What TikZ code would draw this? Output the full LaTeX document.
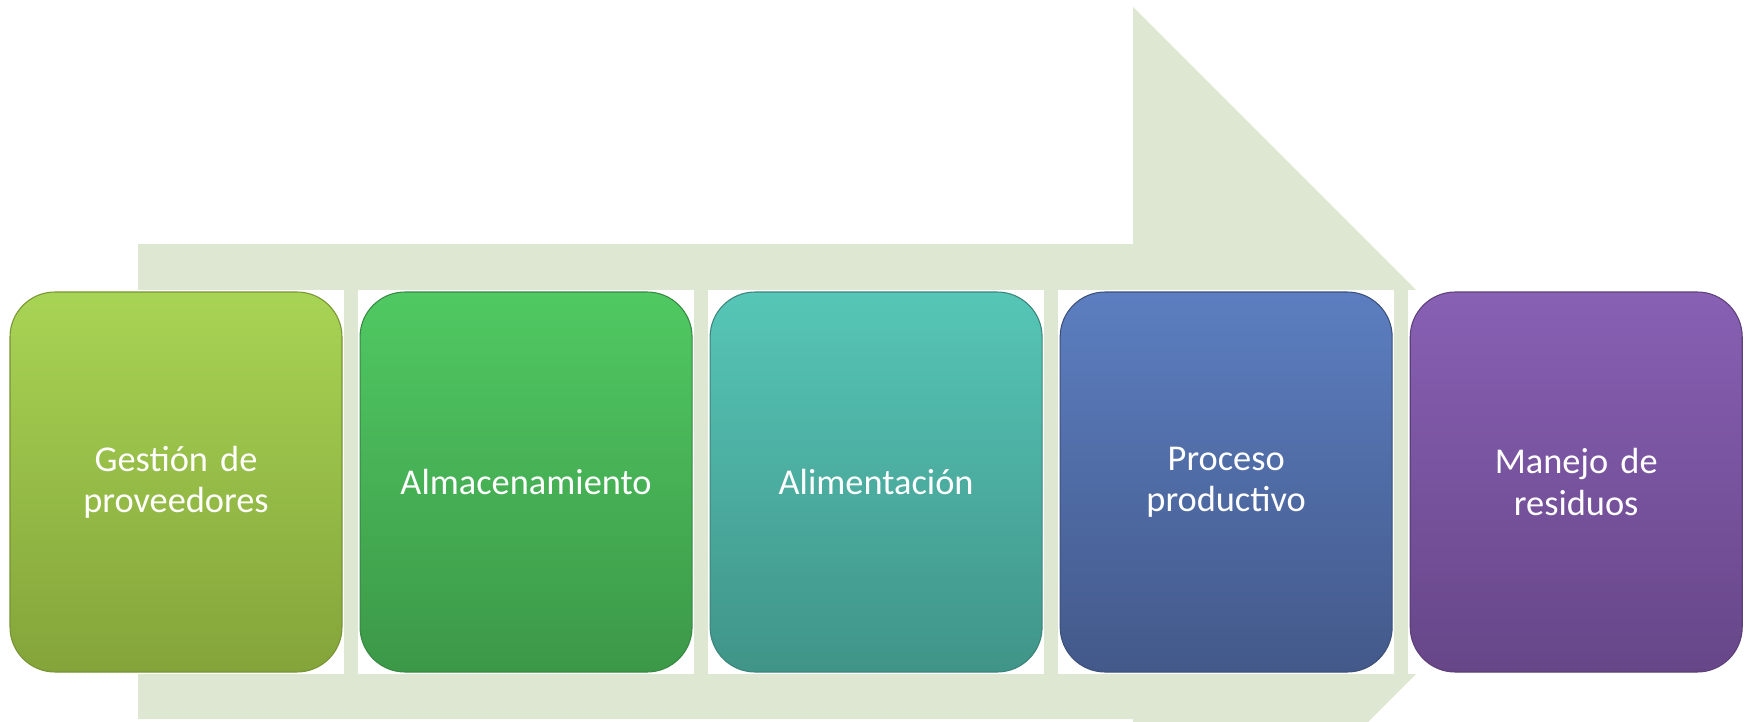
\documentclass[tikz,border=0pt]{standalone}
\usepackage{fontspec}
\setmainfont{Carlito}
\usetikzlibrary{calc,positioning,backgrounds}

\definecolor{flecha}{RGB}{222,231,210}
\definecolor{limaA}{RGB}{168,212,84}
\definecolor{limaB}{RGB}{132,164,58}
\definecolor{verdeA}{RGB}{80,201,98}
\definecolor{verdeB}{RGB}{60,152,72}
\definecolor{turqA}{RGB}{86,198,183}
\definecolor{turqB}{RGB}{64,148,136}
\definecolor{azulA}{RGB}{92,126,192}
\definecolor{azulB}{RGB}{67,89,138}
\definecolor{moraA}{RGB}{136,96,180}
\definecolor{moraB}{RGB}{103,70,136}

\tikzset{
  etapa/.style={rectangle, rounded corners=0.9cm, minimum width=6.64cm,
    minimum height=7.6cm, text width=6.2cm, align=center, inner sep=0pt,
    text=white, line width=0.6pt,
    font=\fontsize{20.7}{23.5}\selectfont},
  fondo/.style={fill=white}
}

\begin{document}
\begin{tikzpicture}
                \useasboundingbox (0,0) rectangle (34.9,14.42);
                % las cinco etapas
                \node[etapa,top color=limaA,bottom color=limaB,draw=limaB!90!black] (gestion) at (3.52,4.78) {Gestión de\\proveedores};
                \node[etapa,top color=verdeA,bottom color=verdeB,draw=verdeB!90!black,right=0.34cm of gestion] (almacen) {Almacenamiento};
                \node[etapa,top color=turqA,bottom color=turqB,draw=turqB!90!black,right=0.34cm of almacen] (alimenta) {Alimentación};
                \node[etapa,top color=azulA,bottom color=azulB,draw=azulB!90!black,right=0.34cm of alimenta] (proceso) {Proceso\\productivo};
                \node[etapa,top color=moraA,bottom color=moraB,draw=moraB!90!black,right=0.34cm of proceso] (residuos) {Manejo de\\residuos};
                \begin{scope}[on background layer]
                \clip (0,0) rectangle (34.9,14.42);
                % flecha de fondo
                \fill[flecha] (2.76,0.04)--(2.76,9.54)--(22.66,9.54)--(22.66,14.28)--(32.16,4.78)--(22.66,-4.72)--(22.66,0.04)--cycle;
                \foreach \n in {gestion,almacen,alimenta,proceso,residuos}
                  \fill[fondo] ($(\n.north west)+(-0.04,0.03)$) rectangle ($(\n.south east)+(0.03,-0.03)$);
                \end{scope}
\end{tikzpicture}
\end{document}
